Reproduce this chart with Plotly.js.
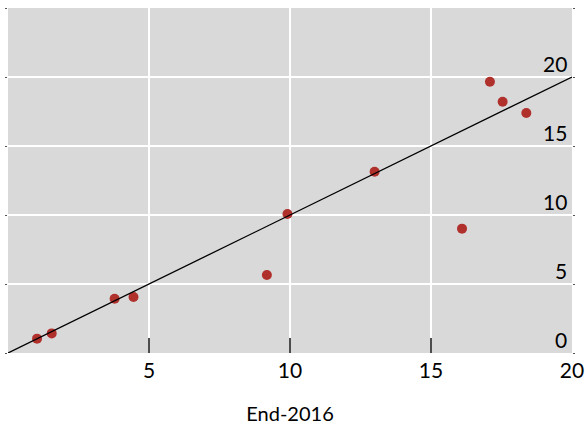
<!DOCTYPE html>
<html>
<head>
<meta charset="utf-8">
<script src="https://cdn.plot.ly/plotly-3.0.1.min.js"></script>
<style>html,body{margin:0;padding:0;background:#fff;}#chart{width:585px;height:425px;}</style>
</head>
<body>
<div id="chart"></div>
<script>
// Data
var xValues = [1.03, 1.55, 3.78, 4.45, 9.18, 9.91, 13.0, 16.1, 17.09, 17.54, 18.38];
var yValues = [1.04, 1.42, 3.93, 4.06, 5.65, 10.07, 13.14, 9.01, 19.66, 18.21, 17.39];
var refLineX = [0, 20];
var refLineY = [0, 20];
var xTickVals = [0, 5, 10, 15, 20];
var xTickText = ['', '5', '10', '15', '20'];
var yTickVals = [0, 5, 10, 15, 20, 25];
var yLabelVals = [0, 5, 10, 15, 20];
var yLabelText = ['0', '5', '10', '15', '20'];
var xTitle = 'End-2016';

var font = 'Lato, "Open Sans", sans-serif';

var traces = [
  {
    x: refLineX, y: refLineY, type: 'scatter', mode: 'lines',
    xaxis: 'x2',
    line: {color: '#000000', width: 1.3},
    hoverinfo: 'skip', showlegend: false
  },
  {
    x: xValues, y: yValues, type: 'scatter', mode: 'markers',
    marker: {color: '#b0302c', size: 10},
    showlegend: false
  }
];

var yLabels = yLabelVals.map(function (v, i) {
  return {
    xref: 'paper', x: 1, xanchor: 'right', xshift: -3,
    yref: 'y', y: v, yanchor: 'bottom', yshift: -1,
    text: yLabelText[i], showarrow: false,
    font: {family: font, size: 21, color: '#000'}
  };
});

var layout = {
  width: 585, height: 425,
  margin: {l: 8, r: 13, t: 8, b: 72},
  paper_bgcolor: '#ffffff',
  plot_bgcolor: '#d9d9d9',
  font: {family: font, color: '#000000', size: 21},
  showlegend: false,
  xaxis: {
    range: [0, 20],
    tickmode: 'array',
    tickvals: xTickVals, ticktext: xTickText,
    ticks: 'inside', ticklen: 15, tickwidth: 2, tickcolor: '#4d4d4d',
    showgrid: true, gridcolor: '#ffffff', gridwidth: 1.5,
    zeroline: false, showline: false,
    ticklabelstandoff: 3,
    tickfont: {family: font, size: 21, color: '#000'},
    title: {text: xTitle, font: {family: font, size: 20, color: '#000'}, standoff: 26}
  },
  xaxis2: {
    range: [0, 20],
    overlaying: 'x', anchor: 'y', side: 'bottom',
    tickmode: 'array', tickvals: xTickVals,
    ticks: 'inside', ticklen: 15, tickwidth: 2, tickcolor: '#4d4d4d',
    showticklabels: false, showgrid: false, zeroline: false, showline: false
  },
  yaxis: {
    range: [0, 25],
    side: 'right',
    tickmode: 'array',
    tickvals: yTickVals,
    showticklabels: false,
    ticks: 'outside', ticklen: 2, tickwidth: 1, tickcolor: '#555',
    mirror: 'ticks',
    showgrid: true, gridcolor: '#ffffff', gridwidth: 1.5,
    zeroline: false, showline: false
  },
  annotations: yLabels
};

Plotly.newPlot('chart', traces, layout, {displayModeBar: false, staticPlot: true});
</script>
</body>
</html>
